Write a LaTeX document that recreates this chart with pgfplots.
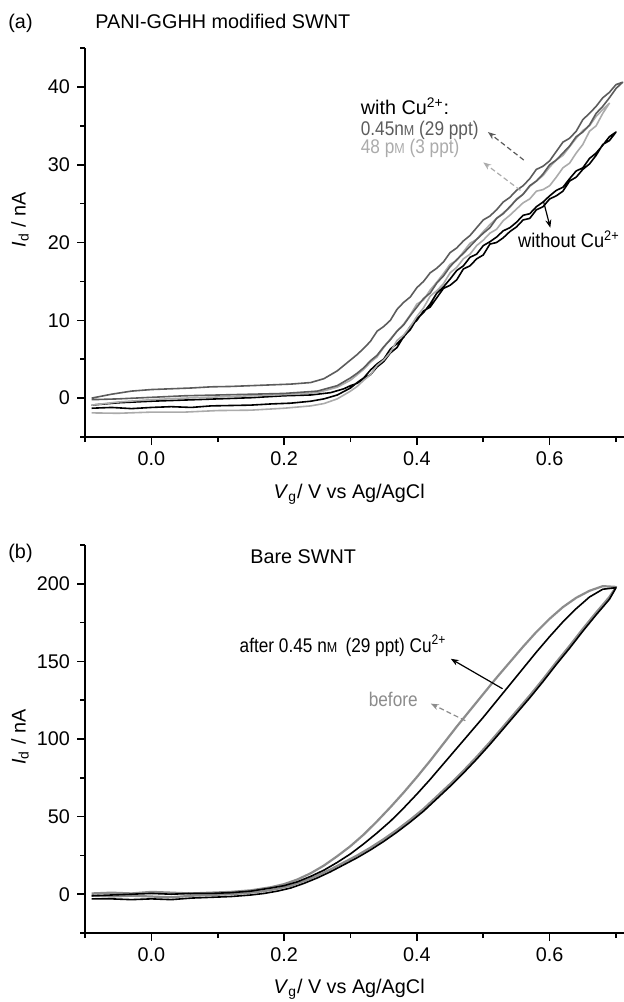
\documentclass[border=0pt]{standalone}
\usepackage{fontspec}
\setmainfont{Liberation Sans}
\usepackage{graphicx}
\usepackage{pgfplots}
\pgfplotsset{compat=1.18}
\usetikzlibrary{arrows.meta}
\definecolor{dgray}{HTML}{5C5C5C}
\definecolor{lgray}{HTML}{ABABAB}
\definecolor{bgray}{HTML}{8C8C8C}
\newcommand{\smM}{{\fontsize{7.2}{8}\selectfont M}}
\newcommand{\cond}[1]{\scalebox{0.87}[1]{#1}}
\tikzset{ann/.style={inner sep=0pt}}
\pgfplotsset{
 panel/.style={
  width=269.5pt, scale only axis,
  axis x line=bottom, axis y line=left,
  axis line style={-, line width=0.8pt},
  tick align=outside, major tick length=4pt, minor tick length=2.5pt,
  tick style={line width=0.8pt, black},
  xmin=-0.1, xmax=0.712,
  xtick={0,0.2,0.4,0.6}, minor xtick={-0.1,0.1,0.3,0.5,0.7},
  xticklabel style={/pgf/number format/.cd, fixed, fixed zerofill, precision=1, assume math mode=true},
  yticklabel style={/pgf/number format/assume math mode=true},
  xlabel={\textit{V}\textsubscript{g}/ V vs Ag/AgCl},
  ylabel={\textit{I}\textsubscript{d} / nA},
  xlabel style={at={(axis description cs:0.49,-0.157)}, anchor=base},
  clip=false,
  every axis plot/.append style={line width=0.8pt, line join=round, mark=none},
 },
}
\begin{document}
\begin{tikzpicture}[font=\fontsize{9.9}{11.8}\selectfont]
% ---------------- panel (a) ----------------
\begin{axis}[panel, at={(42.5pt,-218.5pt)}, anchor=south west, height=194.5pt,
  ymin=-5, ymax=45, ytick={0,10,20,30,40}, minor ytick={-5,5,15,25,35,45},
  ylabel style={at={(axis description cs:-0.1206,0.558)}, anchor=center}]
% without Cu (black)
\addplot[black] coordinates {
(-0.09,-1.3) (-0.06,-1.2) (-0.03,-1.35) (0.00,-1.2) (0.03,-1.1) (0.06,-1.2) (0.09,-1.0)
(0.12,-0.95) (0.15,-0.9) (0.18,-0.75) (0.21,-0.65) (0.24,-0.4) (0.26,-0.1) (0.28,0.4)
(0.30,1.3) (0.31,2.0) (0.32,2.6) (0.33,3.6) (0.34,4.4) (0.35,5.0) (0.36,6.3) (0.37,7.0)
(0.38,7.8) (0.39,9.2) (0.40,10.0) (0.41,11.2) (0.42,11.7) (0.43,12.9) (0.44,14.1)
(0.45,14.5) (0.46,15.2) (0.47,16.6) (0.48,17.0) (0.49,17.9) (0.50,18.4) (0.51,19.8)
(0.52,20.0) (0.53,20.6) (0.54,21.4) (0.55,22.0) (0.56,22.9) (0.57,23.1) (0.58,24.2)
(0.59,24.6) (0.60,25.6) (0.61,26.0) (0.62,26.6) (0.63,27.9) (0.64,28.4) (0.65,29.4)
(0.66,30.1) (0.67,31.2) (0.68,32.6) (0.69,33.1) (0.70,34.2)
(0.69,33.6) (0.68,32.5) (0.67,31.5) (0.66,30.8) (0.65,29.6) (0.64,29.2) (0.63,28.2)
(0.62,27.1) (0.61,26.7) (0.60,26.0) (0.59,25.2) (0.58,24.6) (0.57,23.7) (0.56,23.5)
(0.55,22.6) (0.54,21.9) (0.53,21.5) (0.52,20.7) (0.51,20.1) (0.50,19.6) (0.49,18.5)
(0.48,18.1) (0.47,17.0) (0.46,16.4) (0.45,15.3) (0.44,14.3) (0.43,13.5) (0.42,12.1)
(0.41,11.0) (0.40,10.2) (0.39,8.8) (0.38,7.9) (0.37,6.5) (0.36,5.8) (0.35,4.7)
(0.34,4.0) (0.33,3.0) (0.32,2.5) (0.31,1.9) (0.30,1.6) (0.29,1.2)
(0.27,0.7) (0.24,0.4) (0.20,0.3) (0.15,0.05) (0.10,-0.1) (0.05,-0.25) (0.00,-0.4)
(-0.05,-0.6) (-0.09,-0.9)
};
% 48 pM (light grey)
\addplot[lgray] coordinates {
(-0.09,-1.9) (-0.05,-1.95) (0.00,-1.8) (0.05,-1.8) (0.10,-1.6) (0.15,-1.55) (0.20,-1.3)
(0.24,-1.0) (0.26,-0.7) (0.28,-0.1) (0.30,0.9) (0.31,1.5) (0.32,2.3) (0.33,3.0)
(0.34,4.2) (0.35,4.9) (0.36,5.9) (0.37,7.4) (0.38,8.1) (0.39,9.2) (0.40,10.5)
(0.41,11.6) (0.42,13.1) (0.43,13.8) (0.44,14.7) (0.45,16.1) (0.46,16.8) (0.47,17.9)
(0.48,18.5) (0.49,19.6) (0.50,20.3) (0.51,21.2) (0.52,21.7) (0.53,22.8) (0.54,23.5)
(0.55,24.3) (0.56,25.1) (0.57,25.6) (0.58,26.6) (0.59,26.8) (0.60,27.3) (0.61,28.4)
(0.62,29.6) (0.63,30.2) (0.64,31.5) (0.65,32.6) (0.66,34.3) (0.67,35.0) (0.68,36.6) (0.69,37.9)
(0.68,37.1) (0.67,36.2) (0.66,35.0) (0.65,34.4) (0.64,33.4) (0.63,32.3) (0.62,31.2)
(0.61,30.6) (0.60,29.7) (0.59,28.6) (0.58,27.9) (0.57,27.2) (0.56,26.2) (0.55,25.6)
(0.54,24.5) (0.53,23.8) (0.52,23.1) (0.51,22.3) (0.50,21.4) (0.49,20.4) (0.48,19.9)
(0.47,18.8) (0.46,17.7) (0.45,17.2) (0.44,16.0) (0.43,14.9) (0.42,13.9) (0.41,12.6)
(0.40,12.1) (0.39,10.7) (0.38,9.5) (0.37,8.6) (0.36,7.6) (0.35,6.5) (0.34,5.3)
(0.33,4.6) (0.32,3.7) (0.31,3.0) (0.30,2.3) (0.28,1.4)
(0.25,0.7) (0.20,0.45) (0.15,0.3) (0.10,0.15) (0.05,0.0) (0.00,-0.2) (-0.05,-0.5) (-0.09,-0.9)
};
% 0.45 nM (dark grey)
\addplot[dgray] coordinates {
(-0.09,0.0) (-0.06,0.5) (-0.03,0.9) (0.00,1.1) (0.03,1.2) (0.06,1.3) (0.09,1.45)
(0.12,1.5) (0.15,1.6) (0.18,1.7) (0.21,1.8) (0.24,2.0) (0.26,2.5) (0.28,3.5)
(0.30,4.9) (0.31,5.6) (0.32,6.4) (0.33,7.3) (0.34,8.6) (0.35,9.2) (0.36,10.0)
(0.37,11.4) (0.38,12.3) (0.39,13.0) (0.40,14.2) (0.41,15.0) (0.42,16.1) (0.43,16.7)
(0.44,17.5) (0.45,18.7) (0.46,19.3) (0.47,20.2) (0.48,20.9) (0.49,21.9) (0.50,22.9)
(0.51,23.4) (0.52,24.2) (0.53,25.2) (0.54,25.8) (0.55,26.7) (0.56,27.3) (0.57,28.2)
(0.58,29.4) (0.59,29.8) (0.60,30.5) (0.61,31.7) (0.62,32.9) (0.63,33.4) (0.64,34.3)
(0.65,35.8) (0.66,36.6) (0.67,37.5) (0.68,38.6) (0.69,39.3) (0.70,40.3) (0.71,40.6)
(0.70,39.8) (0.69,38.6) (0.68,37.5) (0.67,36.6) (0.66,35.1) (0.65,34.2) (0.64,33.6)
(0.63,32.4) (0.62,31.5) (0.61,30.6) (0.60,30.0) (0.59,28.8) (0.58,27.9) (0.57,27.3)
(0.56,26.2) (0.55,25.5) (0.54,24.6) (0.53,23.7) (0.52,23.1) (0.51,21.9) (0.50,21.2)
(0.49,20.4) (0.48,19.5) (0.47,18.6) (0.46,17.8) (0.45,16.9) (0.44,15.7) (0.43,14.8)
(0.42,13.5) (0.41,12.8) (0.40,11.7) (0.39,10.6) (0.38,9.4) (0.37,8.6) (0.36,7.5)
(0.35,6.6) (0.34,5.5) (0.33,4.8) (0.32,3.9) (0.31,3.2) (0.30,2.6) (0.28,1.6)
(0.25,0.9) (0.20,0.6) (0.15,0.5) (0.10,0.4) (0.05,0.3) (0.00,0.1)
(-0.05,-0.1) (-0.09,-0.2)
};
\node[ann, anchor=base west, text=black] at (axis cs:0.315,36.4) {with Cu\textsuperscript{2+}:};
\node[ann, anchor=base west, text=dgray] at (axis cs:0.315,33.7) {\cond{0.45n\smM\ (29 ppt)}};
\node[ann, anchor=base west, text=lgray] at (axis cs:0.315,31.5) {\cond{48 p\smM\ (3 ppt)}};
\draw[dgray, dash pattern=on 2.5pt off 1.5pt, line width=0.6pt, -{Stealth[length=4pt,width=3pt]}]
  (axis cs:0.561,30.6) -- (axis cs:0.507,34.2);
\draw[lgray, dash pattern=on 2.5pt off 1.5pt, line width=0.6pt, -{Stealth[length=4pt,width=3pt]}]
  (axis cs:0.556,26.7) -- (axis cs:0.500,30.3);
\node[ann, anchor=base east, text=black] at (axis cs:0.706,19.3) {\scalebox{0.92}[1]{without Cu\textsuperscript{2+}}};
\draw[black, line width=0.6pt, -{Stealth[length=4pt,width=3pt]}]
  (axis cs:0.591,25.2) -- (axis cs:0.601,21.9);
\end{axis}
% ---------------- panel (b) ----------------
\begin{axis}[panel, at={(42.5pt,-466.5pt)}, anchor=south west, height=194pt,
  ymin=-25, ymax=225, ytick={0,50,100,150,200}, minor ytick={-25,25,75,125,175,225},
  ylabel style={at={(axis description cs:-0.1206,0.505)}, anchor=center}]
% before (grey)
\addplot[bgray, line width=1.1pt] coordinates {
(-0.09,0.5) (-0.06,1.0) (-0.03,0.5) (0.00,1.5) (0.03,1.0) (0.06,0.5) (0.09,1.0)
(0.12,1.5) (0.15,2.5) (0.18,4.5) (0.20,6.5) (0.22,9.5) (0.24,13.5) (0.26,18.5)
(0.28,24.5) (0.30,31) (0.32,38.5) (0.34,47) (0.36,56) (0.38,65.5) (0.40,75.5)
(0.42,86) (0.44,97) (0.46,108) (0.48,118.5) (0.50,129) (0.52,139.5) (0.54,149.5)
(0.56,159.5) (0.58,169) (0.60,177.5) (0.62,185) (0.64,191) (0.66,195.5) (0.68,198.5)
(0.70,198)
(0.69,191.5) (0.67,181.5) (0.65,171) (0.63,160) (0.61,149.5) (0.59,138.5) (0.57,128)
(0.55,118) (0.53,108) (0.51,98) (0.49,88.5) (0.47,79.5) (0.45,71) (0.43,63)
(0.41,55) (0.39,48) (0.37,41.5) (0.35,35.5) (0.33,30) (0.31,25) (0.29,20.5)
(0.27,16) (0.25,12) (0.23,8.5) (0.21,5.5) (0.19,3.5) (0.17,2) (0.15,1)
(0.12,0) (0.09,-0.5) (0.06,-1) (0.03,-2) (0.00,-1.5) (-0.03,-1) (-0.06,-1.5) (-0.09,-1)
};
% after (black)
\addplot[black] coordinates {
(-0.09,-1) (-0.06,-0.5) (-0.03,0) (0.00,0.5) (0.03,0) (0.06,0.5) (0.09,0.5)
(0.12,1) (0.15,2) (0.18,4) (0.20,5.5) (0.22,8) (0.24,11.5) (0.26,15.5)
(0.28,20.5) (0.30,26) (0.32,32.5) (0.34,39.5) (0.36,47) (0.38,55.5) (0.40,64.5)
(0.42,74) (0.44,84) (0.46,94) (0.48,104) (0.50,114) (0.52,124.5) (0.54,135)
(0.56,145.5) (0.58,156) (0.60,166) (0.62,175.5) (0.64,184) (0.66,191.5) (0.68,196.5)
(0.70,197.5)
(0.69,190) (0.67,180) (0.65,169.5) (0.63,158.5) (0.61,148) (0.59,137) (0.57,126.5)
(0.55,116.5) (0.53,106.5) (0.51,96.5) (0.49,87) (0.47,78) (0.45,69.5) (0.43,61.5)
(0.41,53.5) (0.39,46.5) (0.37,40) (0.35,34) (0.33,28.5) (0.31,23.5) (0.29,19)
(0.27,14.5) (0.25,10.5) (0.23,7) (0.21,4) (0.19,2) (0.17,0.5) (0.15,-0.5)
(0.12,-1.5) (0.09,-2) (0.06,-2.5) (0.03,-3.5) (0.00,-3) (-0.03,-3.5) (-0.06,-3) (-0.09,-3)
};
\node[ann, anchor=base east, text=black] at (axis cs:0.445,156) {\cond{after 0.45 n\smM\kern2pt\ (29 ppt) Cu\textsuperscript{2+}}};
\draw[black, line width=0.6pt, -{Stealth[length=4pt,width=3pt]}]
  (axis cs:0.529,132.4) -- (axis cs:0.451,151.7);
\node[ann, anchor=base west, text=bgray] at (axis cs:0.327,120.8) {\cond{before}};
\draw[bgray, dash pattern=on 2.5pt off 1.5pt, line width=0.6pt, -{Stealth[length=4pt,width=3pt]}]
  (axis cs:0.473,111.8) -- (axis cs:0.421,122.8);
\end{axis}
\node[ann, anchor=base west] at (4pt,-14pt) {(a)};
\node[ann, anchor=base west] at (47.5pt,-14pt) {PANI-GGHH modified SWNT};
\node[ann, anchor=base west] at (4pt,-279pt) {(b)};
\node[ann, anchor=base west] at (125pt,-281.5pt) {Bare SWNT};
\pgfresetboundingbox
\path[use as bounding box] (0,0) rectangle (312pt,-501pt);
\end{tikzpicture}
\end{document}
